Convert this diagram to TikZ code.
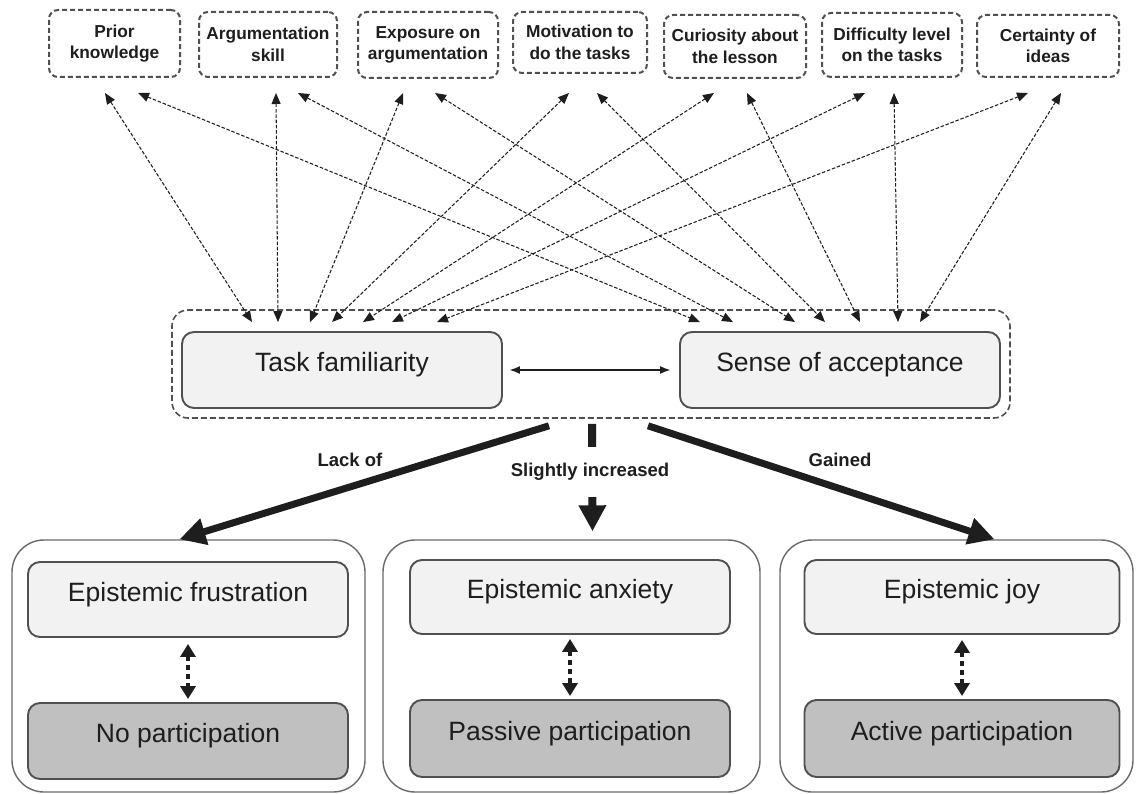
\documentclass[tikz,border=0pt]{standalone}
\usepackage{fontspec}
\setmainfont{Liberation Sans}
\usetikzlibrary{arrows.meta,calc}
\definecolor{ink}{HTML}{1E1E1E}
\definecolor{edge}{HTML}{505050}
\definecolor{lightfill}{HTML}{F2F2F2}
\definecolor{darkfill}{HTML}{C0C0C0}
\begin{document}
\begin{tikzpicture}[x=1pt,y=-1pt,
  factor/.style={draw=edge, dash pattern=on 5pt off 3pt, line width=2pt, rounded corners=9pt,
    align=center, font=\fontsize{17.3}{21.5}\selectfont\bfseries, text=ink, inner sep=0pt},
  grpbox/.style={draw=edge, dash pattern=on 6pt off 3pt, line width=1.6pt, rounded corners=16pt, inner sep=0pt},
  pale/.style={draw=edge, line width=1.9pt, fill=lightfill, rounded corners=12pt,
    font=\fontsize{26.5}{30}\selectfont, text=ink, text height=19pt, text depth=16pt, inner sep=0pt},
  darkbox/.style={pale, fill=darkfill},
  panel/.style={draw=edge!85, line width=1.4pt, rounded corners=32pt, inner sep=0pt},
  link/.style={draw=ink, line width=1.05pt, dash pattern=on 3.5pt off 1.8pt,
    {Triangle[length=11pt,width=9pt]}-{Triangle[length=11pt,width=9pt]}},
  big/.style={draw=ink, line width=7pt, -{Triangle[length=26pt,width=26pt]}},
  dots/.style={draw=ink, line width=4.5pt, dash pattern=on 4.5pt off 4.5pt,
    {Triangle[length=13pt,width=15pt]}-{Triangle[length=13pt,width=15pt]}},
  mutual/.style={draw=ink, line width=2pt, {Latex[length=11pt,width=8pt]}-{Latex[length=11pt,width=8pt]}},
  lbl/.style={font=\fontsize{18.5}{22}\selectfont\bfseries, text=ink}
]
\fill[white] (0,0) rectangle (1139,794);
\useasboundingbox (0,0) rectangle (1139,794);

% top factors
\node[factor, minimum width=131pt, minimum height=67pt] (pk) at (114.5,43.5) {Prior\\knowledge};
\node[factor, minimum width=138pt, minimum height=65pt] (as) at (268,44.5) {Argumentation\\skill};
\node[factor, minimum width=140pt, minimum height=66pt] (ex) at (428,45) {Exposure on\\argumentation};
\node[factor, minimum width=134pt, minimum height=61pt] (mo) at (580,42.5) {Motivation to\\do the tasks};
\node[factor, minimum width=142pt, minimum height=63pt] (cu) at (735,46.5) {Curiosity about\\the lesson};
\node[factor, minimum width=140pt, minimum height=64pt] (di) at (892,45) {Difficulty level\\on the tasks};
\node[factor, minimum width=142pt, minimum height=62pt] (ce) at (1048,46) {Certainty of\\ideas};

% middle group
\node[grpbox, minimum width=838pt, minimum height=108pt] (grp) at (591,364) {};
\node[pale, minimum width=320pt, minimum height=76pt] (tf) at (342,370) {Task familiarity};
\node[pale, minimum width=320pt, minimum height=76pt] (sa) at (840,370) {Sense of acceptance};
\draw[mutual] ([xshift=6pt]tf.east) -- ([xshift=-8pt]sa.west);

% dashed links
\draw[link] ([xshift=-9.5pt,yshift=-15pt]pk.south) -- ([xshift=-90pt,yshift=9pt]tf.north);
\draw[link] ([xshift=23.5pt,yshift=-15pt]pk.south) -- ([xshift=-140pt,yshift=9pt]sa.north);
\draw[link] ([xshift=8pt,yshift=-15pt]as.south) -- ([xshift=-64pt,yshift=9pt]tf.north);
\draw[link] ([xshift=30pt,yshift=-15pt]as.south) -- ([xshift=-107pt,yshift=9pt]sa.north);
\draw[link] ([xshift=-25pt,yshift=-14pt]ex.south) -- ([xshift=-32pt,yshift=9pt]tf.north);
\draw[link] ([xshift=7pt,yshift=-14pt]ex.south) -- ([xshift=-45pt,yshift=9pt]sa.north);
\draw[link] ([xshift=-11pt,yshift=-19pt]mo.south) -- ([xshift=-10pt,yshift=9pt]tf.north);
\draw[link] ([xshift=17pt,yshift=-19pt]mo.south) -- ([xshift=-15pt,yshift=9pt]sa.north);
\draw[link] ([xshift=-21pt,yshift=-14pt]cu.south) -- ([xshift=21pt,yshift=9pt]tf.north);
\draw[link] ([xshift=12pt,yshift=-14pt]cu.south) -- ([xshift=20pt,yshift=9pt]sa.north);
\draw[link] ([xshift=-27pt,yshift=-15pt]di.south) -- ([xshift=50pt,yshift=9pt]tf.north);
\draw[link] ([xshift=2pt,yshift=-15pt]di.south) -- ([xshift=58pt,yshift=9pt]sa.north);
\draw[link] ([xshift=-20pt,yshift=-15pt]ce.south) -- ([xshift=95pt,yshift=9pt]tf.north);
\draw[link] ([xshift=13pt,yshift=-15pt]ce.south) -- ([xshift=80pt,yshift=9pt]sa.north);

% bottom panels
\node[panel, minimum width=353pt, minimum height=252pt] (pl) at (188.5,666) {};
\node[panel, minimum width=377pt, minimum height=252pt] (pm) at (571.5,666) {};
\node[panel, minimum width=353pt, minimum height=252pt] (pr) at (956.5,666) {};

\node[pale, minimum width=320pt, minimum height=75pt] (ef) at (188,599.5) {Epistemic frustration};
\node[darkbox, minimum width=320pt, minimum height=76pt] (np) at (188,741) {No participation};
\node[pale, minimum width=320pt, minimum height=74pt] (ea) at (570,597) {Epistemic anxiety};
\node[darkbox, minimum width=320pt, minimum height=77pt] (pp) at (570,738.5) {Passive participation};
\node[pale, minimum width=315pt, minimum height=74pt] (ej) at (962,597) {Epistemic joy};
\node[darkbox, minimum width=315pt, minimum height=77pt] (ap) at (962,738.5) {Active participation};

\draw[dots] ([yshift=-6pt]ef.south) -- ([yshift=3pt]np.north);
\draw[dots] ([yshift=-4pt]ea.south) -- ([yshift=3pt]pp.north);
\draw[dots] ([yshift=-5pt]ej.south) -- ([yshift=3pt]ap.north);

% thick outcome arrows
\draw[big] ([xshift=-42pt,yshift=-7pt]grp.south) -- ([xshift=-9pt]pl.north);
\draw[big] ([xshift=57pt,yshift=-7pt]grp.south) -- ([xshift=38pt]pr.north);
\draw[big, line width=8pt] ([xshift=1pt,yshift=-5pt]grp.south) -- ([xshift=21pt,yshift=8pt]pm.north);
\node[lbl, fill=white, minimum height=50pt, inner xsep=4pt] (lsi) at (590,472) {Slightly increased};
\node[lbl] (llo) at (350,460) {Lack of};
\node[lbl] (lga) at (840,460) {Gained};
\end{tikzpicture}
\end{document}
